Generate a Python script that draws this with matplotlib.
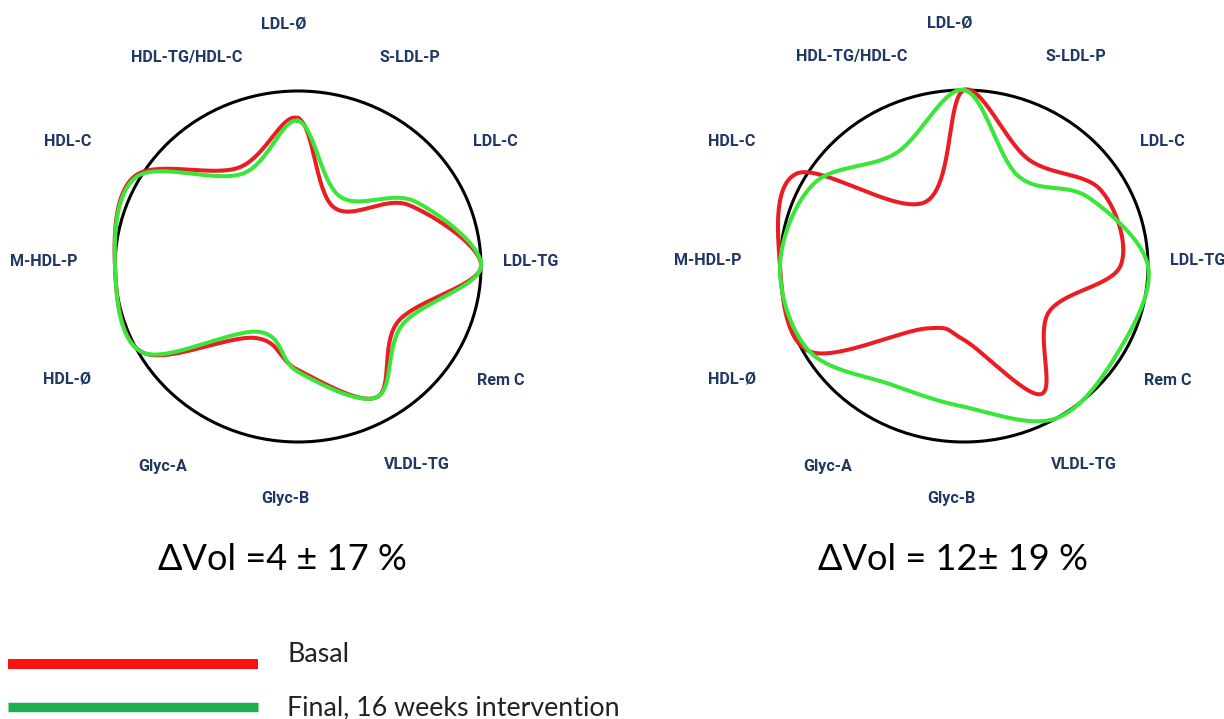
import matplotlib
matplotlib.use('Agg')
import matplotlib.pyplot as plt
import matplotlib.font_manager as fm
from matplotlib.patches import Ellipse
import numpy as np

# 12 parameters, clockwise from the top
labels = ['LDL-Ø', 'S-LDL-P', 'LDL-C', 'LDL-TG', 'Rem C', 'VLDL-TG',
          'Glyc-B', 'Glyc-A', 'HDL-Ø', 'M-HDL-P', 'HDL-C', 'HDL-TG/HDL-C']

# relative values (1 = outer circle)
left_basal = [0.845, 0.39, 0.70, 1.00, 0.63, 0.86, 0.59, 0.47, 0.98, 1.00, 1.03, 0.65]
left_final = [0.83, 0.46, 0.74, 1.00, 0.66, 0.86, 0.60, 0.43, 0.98, 1.00, 1.02, 0.61]
right_basal = [1.00, 0.70, 0.86, 0.85, 0.53, 0.84, 0.42, 0.41, 0.97, 1.00, 1.05, 0.42]
right_final = [1.00, 0.59, 0.78, 1.00, 0.97, 1.00, 0.80, 0.78, 0.97, 1.00, 0.94, 0.74]

vol_texts = ['\u0394Vol =4 \u00b1 17 %', '\u0394Vol = 12\u00b1 19 %']
legend_names = ['Basal', 'Final, 16 weeks intervention']

# where the labels sit around the circle (in circle radii)
label_pos = [(-0.08, 1.38), (0.61, 1.19), (1.08, 0.71), (1.27, 0.03),
             (1.11, -0.65), (0.65, -1.13), (-0.07, -1.32), (-0.74, -1.14),
             (-1.26, -0.64), (-1.39, 0.03), (-1.26, 0.71), (-0.61, 1.19)]

names = {f.name for f in fm.fontManager.ttflist}
if 'Liberation Sans Narrow' in names:
    lab_font, lab_size = 'Liberation Sans Narrow', 13
elif 'Roboto' in names:
    lab_font, lab_size = 'Roboto', 11.6
else:
    lab_font, lab_size = 'DejaVu Sans', 10.5
txt_font = ['Lato', 'DejaVu Sans'] if 'Lato' in names else ['DejaVu Sans']

RED = '#ec1c24'
GREEN = '#39e639'
NAVY = '#1f3864'


def smooth_closed(x, y, n=60):
    # closed Bezier smoothing through the points (like a spreadsheet "smoothed line")
    P = np.column_stack([x, y])
    N = len(P)
    t = np.linspace(0, 1, n, endpoint=False)[:, None]
    segs = []
    for i in range(N):
        p0, p1, p2, p3 = P[i - 1], P[i], P[(i + 1) % N], P[(i + 2) % N]
        c1 = p1 + (p2 - p0) / 6
        c2 = p2 - (p3 - p1) / 6
        segs.append((1 - t) ** 3 * p1 + 3 * (1 - t) ** 2 * t * c1 + 3 * (1 - t) * t ** 2 * c2 + t ** 3 * p2)
    pts = np.vstack(segs + [P[:1]])
    return pts[:, 0], pts[:, 1]


theta = np.deg2rad(90 - 30 * np.arange(len(labels)))

W, H = 1224, 719
fig = plt.figure(figsize=(W / 100, H / 100), dpi=100)


def draw(px0, cx, cy, rx, ry, basal, final):
    # axes covering 600x520 px, data units = circle radii
    ax = fig.add_axes([px0 / W, (H - 520) / H, 600 / W, 520 / H])
    ax.set_xlim(-(cx - px0) / rx, (px0 + 600 - cx) / rx)
    ax.set_ylim(-(520 - cy) / ry, cy / ry)
    ax.axis('off')
    ax.add_patch(Ellipse((0, 0), 2, 2, fill=False, ec='black', lw=2.2, zorder=1))
    for vals, col in [(basal, RED), (final, GREEN)]:
        r = np.array(vals)
        x, y = smooth_closed(r * np.cos(theta), r * np.sin(theta))
        ax.plot(x, y, color=col, lw=2.9, zorder=2, solid_joinstyle='round')
    for lab, (lx, ly) in zip(labels, label_pos):
        ax.text(lx, ly, lab, ha='center', va='center', color=NAVY,
                fontsize=lab_size, fontweight='bold', family=lab_font)
    return ax


draw(0, 298, 266.5, 183, 175.5, left_basal, left_final)
draw(624, 964, 266, 184, 176, right_basal, right_final)

fig.text(282 / W, 1 - 560 / H, vol_texts[0], ha='center', va='center',
         fontsize=26, family=txt_font)
fig.text(953 / W, 1 - 560 / H, vol_texts[1], ha='center', va='center',
         fontsize=26, family=txt_font)

# legend drawn by hand as in the figure
lax = fig.add_axes([0, 0, 1, 1])
lax.set_xlim(0, W)
lax.set_ylim(H, 0)
lax.axis('off')
lax.plot([8, 258], [664, 664], color='#ff1111', lw=7.2, solid_capstyle='butt')
lax.plot([8, 258], [707, 707], color='#1bb14c', lw=6.8, solid_capstyle='butt')
lax.text(287, 662, legend_names[0], ha='left', va='baseline', fontsize=19.3,
         family=txt_font, color='#222222')
lax.text(287, 715, legend_names[1], ha='left', va='baseline', fontsize=19.3,
         family=txt_font, color='#222222')

fig.savefig('out.png', dpi=100, facecolor='white')
